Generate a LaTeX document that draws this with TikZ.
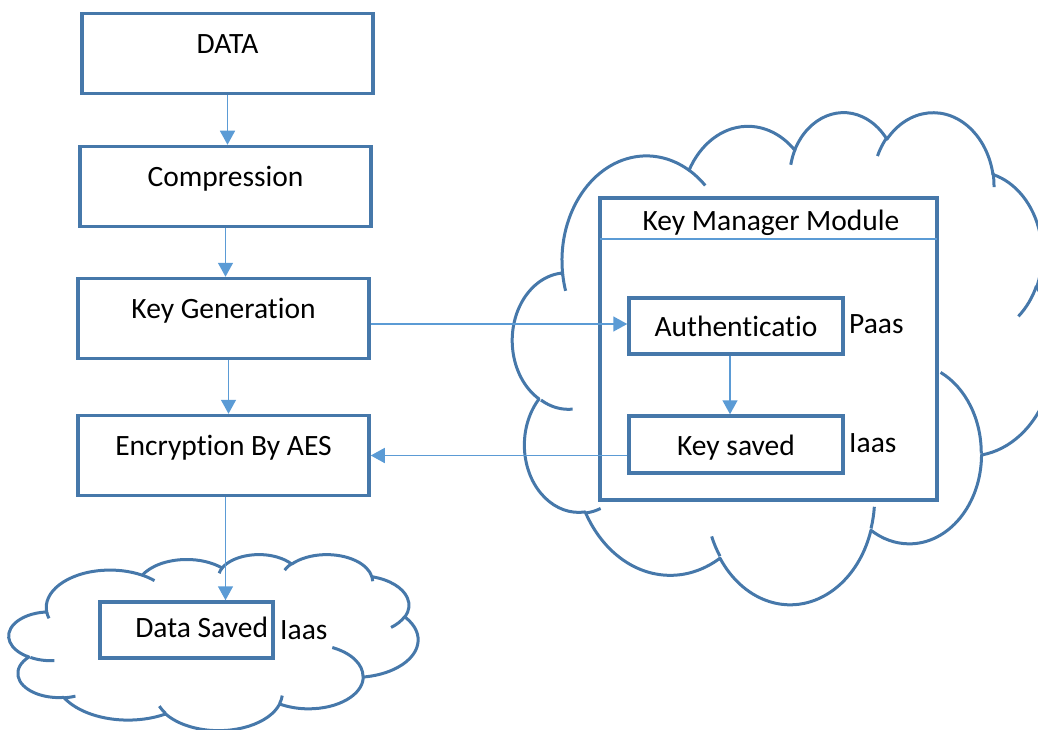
\documentclass[tikz,border=0pt]{standalone}
\usepackage{fontspec}
\setmainfont{Carlito}[Ligatures={NoCommon,NoContextual}]
\usetikzlibrary{arrows.meta}
\definecolor{boxblue}{RGB}{70,120,170}
\definecolor{arrblue}{RGB}{91,155,213}
\newcommand\ooarc[4]{\pgfextra{%
  \pgfmathsetmacro\ooTa{atan2((#1)*sin(#3),(#2)*cos(#3))}%
  \pgfmathsetmacro\ooTb{atan2((#1)*sin((#3)+(#4)),(#2)*cos((#3)+(#4)))}%
  \pgfmathsetmacro\ooD{\ooTb-\ooTa}%
  \pgfmathsetmacro\ooD{\ooD+((#4)>0)*(\ooD<0)*360-((#4)<0)*(\ooD>0)*360}%
 }arc[start angle=\ooTa,delta angle=\ooD,x radius=#1,y radius=#2]}
\newcommand\cloudshape{%
 \draw[cloudl] (39.00,143.70)
 \ooarc{67.53}{91.90}{-190.4875}{123.7805}
 \ooarc{53.33}{72.67}{-144.1024}{89.9452}
 \ooarc{43.65}{59.45}{-145.8079}{99.7230}
 \ooarc{48.57}{65.95}{-130.9861}{117.2417}
 \ooarc{53.33}{72.73}{-78.7089}{109.0269}
 \ooarc{67.75}{92.20}{-46.2673}{130.2690}
 \ooarc{57.85}{78.67}{0.6250}{114.0333}
 \ooarc{67.52}{92.15}{22.4516}{115.1726}
 \ooarc{77.20}{105.43}{66.2426}{77.5872}
 \ooarc{43.60}{59.18}{-274.9421}{146.7356}
 \ooarc{43.45}{59.45}{-246.8285}{152.5189}
 -- cycle;
 \draw[cloudl]
 (46.93,261.77) \ooarc{43.45}{59.45}{86.7420}{26.4295}
 (69.28,348.99) \ooarc{43.60}{59.18}{73.6105}{11.4475}
 (164.78,390.90) \ooarc{67.52}{92.15}{137.6242}{14.0811}
 (288.27,347.51) \ooarc{67.52}{92.15}{6.4533}{15.9984}
 (341.29,229.54) \ooarc{57.85}{78.67}{-70.2924}{70.9174}
 (417.98,153.54) \ooarc{53.33}{72.73}{30.3180}{27.7515}
 (383.24,54.26) \ooarc{48.57}{65.95}{-13.7443}{14.8589}
 (290.78,39.52) \ooarc{48.57}{65.95}{-149.1815}{18.1954}
 (221.41,47.20) \ooarc{43.65}{59.45}{-163.4943}{17.6864}
 (140.00,51.92) \ooarc{67.53}{91.90}{-66.7070}{12.3194}
 (41.27,157.89) \ooarc{67.53}{91.90}{157.6544}{11.8582};}
\tikzset{
 cloudl/.style={draw=boxblue,line width=3pt,line join=round},
 box/.style={draw=boxblue,line width=3.5pt,fill=white,inner sep=0pt,
   font=\fontsize{29.5}{35}\selectfont},
 lbox/.style={box,minimum width=291pt,minimum height=80pt,text height=12pt,text depth=12pt},
 lbl/.style={inner sep=0pt,anchor=base west,font=\fontsize{29.5}{35}\selectfont},
 arr/.style={draw=arrblue,line width=1.5pt,-{Triangle[width=15pt,length=14pt]}},
 hdr/.style={draw=arrblue,line width=1.5pt}
}
\begin{document}
\begin{tikzpicture}[x=1pt,y=1pt,yscale=-1]
\useasboundingbox (0,0) rectangle (1038,730);
\begin{scope}
\clip (0,0) rectangle (1038,730);
\begin{scope}[shift={(514,111)},xscale=1.25,yscale=1.1389]
\cloudshape
\end{scope}
\begin{scope}[shift={(10,554)},xscale=0.9444,yscale=0.4074]
\cloudshape
\end{scope}
\end{scope}
% left column
\node[lbox] (data) at (227.5,53.5) {DATA};
\node[lbox] (comp) at (225.5,186.5) {Compression};
\node[lbox] (keygen) at (223.5,318.5) {Key Generation};
\node[lbox] (enc) at (223.5,455.5) {Encryption By AES};
\node[box,minimum width=173pt,minimum height=56pt,text width=163pt,align=flush right,
  text height=20pt,text depth=6pt] (dsaved) at (186.5,630) {Data Saved};
\node[lbl] (iaasa) at (280,639) {Iaas};
% key manager module
\node[box,minimum width=337pt,minimum height=302pt] (km) at (768.5,349) {};
\node[inner sep=0pt,anchor=base,font=\fontsize{29.5}{35}\selectfont] (kmtitle) at (771,230) {Key Manager Module};
\coordinate (kmsep) at (768.5,239);
\draw[hdr] ([xshift=2pt]km.west |- kmsep) -- ([xshift=-2pt]km.east |- kmsep);
\node[box,minimum width=214pt,minimum height=56pt,text height=20pt,text depth=0pt] (auth) at (736,326) {Authenticatio};
\node[box,minimum width=214pt,minimum height=57pt,text height=22pt,text depth=0pt] (keysaved) at (736,444.5) {Key saved};
\node[lbl] (paas) at (849,333) {Paas};
\node[lbl] (iaasb) at (849,452) {Iaas};
% connectors
\draw[arr] (data.south) -- (data.south |- comp.north);
\draw[arr] (comp.south) -- (comp.south |- keygen.north);
\draw[arr] ([xshift=5pt]keygen.south) -- ([xshift=5pt]keygen.south |- enc.north);
\draw[arr] ([xshift=2pt]enc.south) -- ([xshift=2pt]enc.south |- dsaved.north);
\draw[arr] ([yshift=-2pt]keygen.east |- auth.west) -- ([yshift=-2pt]auth.west);
\draw[arr] (keysaved.west |- enc.east) -- (enc.east);
\draw[arr] ([xshift=-6pt]auth.south) -- ([xshift=-6pt]keysaved.north);
\end{tikzpicture}
\end{document}
